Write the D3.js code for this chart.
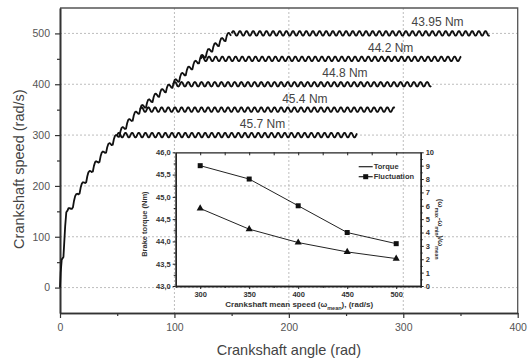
<!DOCTYPE html>
<html>
<head>
<meta charset="utf-8">
<script src="https://cdn.jsdelivr.net/npm/d3@7"></script>
<style>
  body { margin: 0; background: #fff; }
  text { font-family: Arial, "Liberation Sans", sans-serif; }
</style>
</head>
<body>
<svg id="chart" width="528" height="363"></svg>
<script>
// ---- main chart data ----
const plateauSpeed = [300, 350, 400, 450, 500];
const plateauLabel = ['45.7 Nm', '45.4 Nm', '44.8 Nm', '44.2 Nm', '43.95 Nm'];
const plateauStart = [50, 70, 99, 123, 150];
const plateauEnd = [260, 293, 325, 351, 376];
const labelAngle = [177, 214, 249, 289, 330];

// run-up before the ripple kicks in
const startAngle = [0, 0.6, 1.5, 3, 4.5, 5.5];
const startSpeed = [0, 30, 55, 60, 120, 148];
// run-up mean speed
const rampAngle = [5.5, 9, 15, 21, 27, 33, 39, 45, 50, 56, 63, 70, 84, 99, 111, 123, 136, 150];
const rampSpeed = [148, 152, 183, 206, 229, 248, 268, 284, 298, 314, 333, 350, 377, 400, 426, 450, 476, 500];
// one ripple cycle, offsets in rad/s
const rampCycle = [-6, 2, 6, 5, 1, -4];
const rippleCycle = [0, 3.5, 4.5, 3.5, 0, -3.5, -4.5, -3.5];
const ripplePeriod = 5.8;

// ---- inset data ----
const meanSpeed = [300, 350, 400, 450, 500];
const torque = [45.7, 45.4, 44.8, 44.2, 43.95];
const fluctuation = [5.8, 4.25, 3.25, 2.55, 2.05];

const svg = d3.select('#chart');

let
  margin = {left: 60, right: 10.3, top: 8, bottom: 50},
  width = 528 - margin.left - margin.right,
  height = 363 - margin.top - margin.bottom;

const x = d3.scaleLinear().domain([0, 400]).range([0, width]);
const y = d3.scaleLinear().domain([-50, 550]).range([height, 0]);

const g = svg.append('g').attr('transform', `translate(${margin.left},${margin.top})`);

// grid
g.append('g').attr('class', 'grid')
  .selectAll('line.h').data([0, 100, 200, 300, 400, 500]).enter()
  .append('line')
  .attr('x1', 0).attr('x2', width)
  .attr('y1', d => y(d)).attr('y2', d => y(d))
  .attr('stroke', '#bdbdbd').attr('stroke-dasharray', '2,2');
g.select('.grid')
  .selectAll('line.v').data([100, 200, 300]).enter()
  .append('line')
  .attr('y1', 0).attr('y2', height)
  .attr('x1', d => x(d)).attr('x2', d => x(d))
  .attr('stroke', '#bdbdbd').attr('stroke-dasharray', '2,2');

// frame top/right
g.append('path')
  .attr('d', `M0,0H${width}V${height}`)
  .attr('fill', 'none').attr('stroke', '#555').attr('stroke-width', 1.3);

// axes
function styleAxis(sel, size, color) {
  sel.select('.domain').attr('stroke', '#333').attr('stroke-width', 1.6);
  sel.selectAll('.tick line').attr('stroke', '#333').attr('stroke-width', 1.2);
  sel.selectAll('.tick text').attr('fill', color).style('font-size', size + 'px');
}

let yAxis = g.append('g')
  .call(d3.axisLeft(y).tickValues([0, 100, 200, 300, 400, 500]).tickSize(5).tickPadding(5).tickSizeOuter(0));
styleAxis(yAxis, 10.5, '#555');
let yMinor = g.append('g')
  .call(d3.axisLeft(y).tickValues([50, 150, 250, 350, 450]).tickSize(3).tickFormat('').tickSizeOuter(0));
styleAxis(yMinor, 10, '#555');

let xAxis = g.append('g').attr('transform', `translate(0,${height})`)
  .call(d3.axisBottom(x).tickValues([0, 100, 200, 300, 400]).tickSize(5).tickPadding(6).tickSizeOuter(0));
styleAxis(xAxis, 10.5, '#555');
let xMinor = g.append('g').attr('transform', `translate(0,${height})`)
  .call(d3.axisBottom(x).tickValues([50, 150, 250, 350]).tickSize(3).tickFormat('').tickSizeOuter(0));
styleAxis(xMinor, 10, '#555');

// titles
svg.append('text')
  .attr('transform', `translate(24,${margin.top + y(233)}) rotate(-90)`)
  .attr('text-anchor', 'middle')
  .attr('fill', '#444').style('font-size', '14.5px')
  .text('Crankshaft speed (rad/s)');
svg.append('text')
  .attr('x', margin.left + x(200)).attr('y', 355)
  .attr('text-anchor', 'middle')
  .attr('fill', '#444').style('font-size', '14.5px')
  .text('Crankshaft angle (rad)');

// ---- speed curves ----
const line = d3.line().x(d => x(d[0])).y(d => y(d[1]));

function rippled(a0, a1, mean, cycle) {
  let pts = [], step = ripplePeriod / cycle.length, k = 0;
  for (let a = a0; a <= a1 + 1e-6; a += step, k++) {
    pts.push([a, mean(a) + cycle[k % cycle.length]]);
  }
  return pts;
}

const rampMean = d3.scaleLinear().domain(rampAngle).range(rampSpeed);
let ramp = startAngle.map((a, i) => [a, startSpeed[i]]);
ramp = ramp.concat(rippled(rampAngle[0], rampAngle[rampAngle.length - 1], rampMean, rampCycle).slice(1));

const curves = g.append('g').attr('class', 'curves');
curves.append('path')
  .attr('d', line(ramp))
  .attr('fill', 'none').attr('stroke', '#111').attr('stroke-width', 1.8)
  .attr('stroke-linejoin', 'round');

curves.selectAll('.plateau').data(plateauSpeed).enter()
  .append('path')
  .attr('class', 'plateau')
  .attr('d', (d, i) => line(rippled(plateauStart[i], plateauEnd[i], () => d, rippleCycle)))
  .attr('fill', 'none').attr('stroke', '#111').attr('stroke-width', 1.8)
  .attr('stroke-linejoin', 'round');

curves.selectAll('.lbl').data(plateauSpeed).enter()
  .append('text')
  .attr('class', 'lbl')
  .attr('x', (d, i) => x(labelAngle[i]))
  .attr('y', d => y(d) - 7)
  .attr('text-anchor', 'middle')
  .attr('fill', '#444').style('font-size', '12px')
  .text((d, i) => plateauLabel[i]);

// ---- inset ----
const inset = {left: 175.7, top: 152.3, width: 245, height: 133.7};
const ix = d3.scaleLinear().domain([275, 525]).range([0, inset.width]);
const iyL = d3.scaleLinear().domain([43, 46]).range([inset.height, 0]);
const iyR = d3.scaleLinear().domain([0, 10]).range([inset.height, 0]);

const ig = svg.append('g').attr('transform', `translate(${inset.left},${inset.top})`);

function styleInset(sel) {
  sel.select('.domain').attr('stroke', '#222').attr('stroke-width', 1.3);
  sel.selectAll('.tick line').attr('stroke', '#222');
  sel.selectAll('.tick text').attr('fill', '#333')
    .style('font-size', '7.5px').style('font-weight', 'bold');
}
const comma = d => d.toFixed(1).replace('.', ',');

let a;
a = ig.append('g').call(d3.axisLeft(iyL).tickValues(d3.range(43, 46.01, 0.5)).tickFormat(comma).tickSize(3).tickPadding(2).tickSizeOuter(0));
styleInset(a);
a = ig.append('g').call(d3.axisLeft(iyL).tickValues(d3.range(43.25, 46, 0.5)).tickFormat('').tickSize(2).tickSizeOuter(0));
styleInset(a);

a = ig.append('g').attr('transform', `translate(${inset.width},0)`)
  .call(d3.axisRight(iyR).tickValues(d3.range(0, 11)).tickSize(3).tickPadding(2).tickSizeOuter(0));
styleInset(a);
a = ig.append('g').attr('transform', `translate(${inset.width},0)`)
  .call(d3.axisRight(iyR).tickValues(d3.range(0.5, 10, 1)).tickFormat('').tickSize(2).tickSizeOuter(0));
styleInset(a);

a = ig.append('g').attr('transform', `translate(0,${inset.height})`)
  .call(d3.axisBottom(ix).tickValues(meanSpeed).tickSize(3).tickPadding(3).tickSizeOuter(0));
styleInset(a);
a = ig.append('g').attr('transform', `translate(0,${inset.height})`)
  .call(d3.axisBottom(ix).tickValues([275, 325, 375, 425, 475, 525]).tickFormat('').tickSize(2).tickSizeOuter(0));
styleInset(a);
a = ig.append('g')
  .call(d3.axisBottom(ix).tickValues(d3.range(300, 501, 25)).tickFormat('').tickSize(3).tickSizeOuter(0));
styleInset(a);

// inset series
const torqueLine = d3.line().x((d, i) => ix(meanSpeed[i])).y(d => iyL(d));
const flucLine = d3.line().x((d, i) => ix(meanSpeed[i])).y(d => iyR(d));

ig.append('path').attr('d', torqueLine(torque))
  .attr('fill', 'none').attr('stroke', '#222').attr('stroke-width', 1);
ig.append('path').attr('d', flucLine(fluctuation))
  .attr('fill', 'none').attr('stroke', '#222').attr('stroke-width', 1);

ig.selectAll('.sq').data(torque).enter()
  .append('rect').attr('class', 'sq')
  .attr('x', (d, i) => ix(meanSpeed[i]) - 2.5)
  .attr('y', d => iyL(d) - 2.5)
  .attr('width', 5).attr('height', 5)
  .attr('fill', '#111');

const tri = d3.symbol().type(d3.symbolTriangle).size(22);
ig.selectAll('.tri').data(fluctuation).enter()
  .append('path').attr('class', 'tri')
  .attr('transform', (d, i) => `translate(${ix(meanSpeed[i])},${iyR(d)})`)
  .attr('d', tri)
  .attr('fill', '#111');

// legend
const leg = ig.append('g').attr('transform', `translate(${inset.width - 62},14.4)`);
leg.append('line').attr('x1', 0).attr('x2', 14).attr('y1', 0).attr('y2', 0)
  .attr('stroke', '#222').attr('stroke-width', 1.2);
leg.append('text').attr('x', 15).attr('y', 2.6)
  .style('font-size', '7.5px').style('font-weight', 'bold').attr('fill', '#333')
  .text('Torque');
leg.append('line').attr('x1', 0).attr('x2', 14).attr('y1', 10).attr('y2', 10)
  .attr('stroke', '#222').attr('stroke-width', 1.2);
leg.append('rect').attr('x', 4.5).attr('y', 7.5).attr('width', 5).attr('height', 5).attr('fill', '#111');
leg.append('text').attr('x', 15).attr('y', 12.6)
  .style('font-size', '7.5px').style('font-weight', 'bold').attr('fill', '#333')
  .text('Fluctuation');

// inset titles
ig.append('text')
  .attr('transform', `translate(-29,${inset.height / 2 + 5}) rotate(-90)`)
  .attr('text-anchor', 'middle')
  .style('font-size', '7.5px').style('font-weight', 'bold').attr('fill', '#333')
  .text('Brake torque (Nm)');

let xt = ig.append('text')
  .attr('x', ix(400) + 1).attr('y', inset.height + 21)
  .attr('text-anchor', 'middle')
  .style('font-size', '8px').style('font-weight', 'bold').attr('fill', '#333');
xt.append('tspan').text('Crankshaft mean speed (\u03C9');
xt.append('tspan').attr('baseline-shift', 'sub').style('font-size', '5.5px').text('mean');
xt.append('tspan').text('), (rad/s)');

let rt = ig.append('text')
  .attr('transform', `translate(${inset.width + 17},${inset.height / 2 + 10}) rotate(90)`)
  .attr('text-anchor', 'middle')
  .style('font-size', '7.5px').style('font-weight', 'bold').attr('fill', '#333');
rt.append('tspan').text('(\u03C9');
rt.append('tspan').attr('baseline-shift', 'sub').style('font-size', '5px').text('max');
rt.append('tspan').text('-\u03C9');
rt.append('tspan').attr('baseline-shift', 'sub').style('font-size', '5px').text('min');
rt.append('tspan').text(')/\u03C9');
rt.append('tspan').attr('baseline-shift', 'sub').style('font-size', '5px').text('mean');
</script>
</body>
</html>
